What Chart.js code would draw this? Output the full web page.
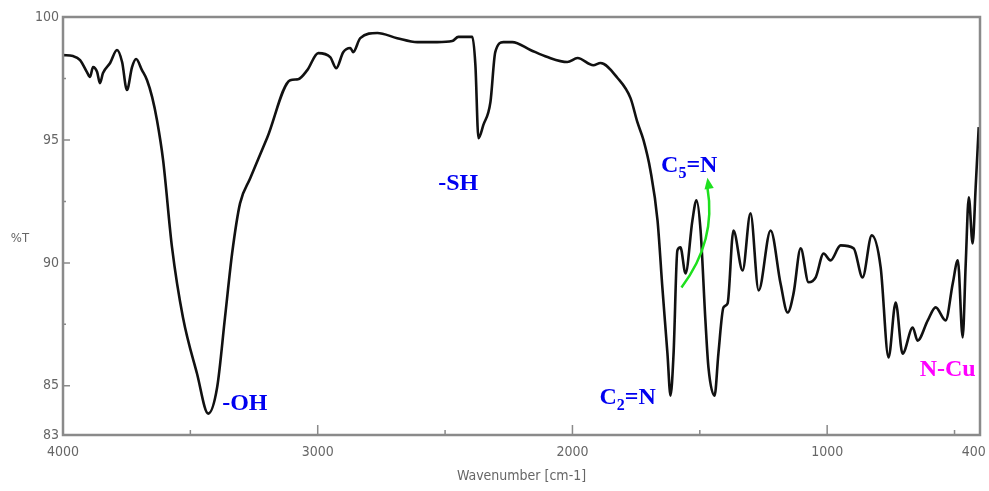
<!DOCTYPE html>
<html>
<head>
<meta charset="utf-8">
<script src="https://cdn.jsdelivr.net/npm/chart.js@4.4.1/dist/chart.umd.min.js"></script>
<style>
  html, body { margin: 0; padding: 0; background: #fff; }
  #wrap { width: 989px; height: 491px; }
</style>
</head>
<body>
<div id="wrap"><canvas id="chart"></canvas></div>
<script>
// IR spectrum
const wavenumber = [
  4000, 3961, 3933, 3906, 3894, 3882, 3866, 3855, 3843, 3815, 3788, 3768, 3749, 3729, 3713, 3690,
  3670, 3650, 3631, 3607, 3572, 3529, 3474, 3430, 3395, 3364, 3336, 3305, 3265, 3198, 3108, 3077,
  3041, 2998, 2951, 2927, 2900, 2872, 2861, 2833, 2766, 2688, 2609, 2531, 2472, 2448, 2393, 2381,
  2369, 2350, 2322, 2303, 2271, 2236, 2165, 2098, 2020, 1980, 1918, 1890, 1823, 1772, 1745, 1721,
  1694, 1666, 1647, 1627, 1615, 1603, 1588, 1576, 1556, 1529, 1513, 1497, 1478, 1466, 1442, 1427,
  1407, 1391, 1368, 1332, 1301, 1269, 1222, 1183, 1155, 1132, 1104, 1073, 1045, 1014, 987, 947,
  896, 861, 825, 790, 759, 731, 704, 664, 645, 605, 574, 535, 507, 487, 468, 456,
  444, 429, 417, 405
];
const transmittance = [
  98.45, 98.41, 98.25, 97.76, 97.56, 97.96, 97.76, 97.31, 97.72, 98.13, 98.66, 98.17, 97.03, 97.96, 98.29, 97.84,
  97.43, 96.74, 95.80, 94.18, 90.63, 87.78, 85.50, 83.87, 84.93, 87.78, 90.39, 92.42, 93.44, 95.10, 97.43, 97.47,
  97.84, 98.53, 98.37, 97.92, 98.57, 98.74, 98.57, 99.14, 99.35, 99.14, 98.98, 98.98, 99.02, 99.19, 99.19, 98.04,
  95.07, 95.60, 96.54, 98.57, 98.98, 98.98, 98.66, 98.37, 98.17, 98.33, 98.04, 98.13, 97.52, 96.70, 95.72, 94.99,
  93.77, 91.73, 89.00, 86.31, 84.60, 86.31, 90.51, 90.63, 89.57, 91.73, 92.55, 91.32, 87.66, 85.74, 84.60, 86.31,
  88.19, 88.35, 91.32, 89.69, 92.02, 88.88, 91.32, 89.16, 87.98, 88.76, 90.59, 89.21, 89.41, 90.38, 90.10, 90.71,
  90.59, 89.41, 91.12, 89.82, 86.15, 88.39, 86.31, 87.37, 86.84, 87.66, 88.19, 87.66, 89.16, 90.10, 86.97, 89.98,
  92.67, 90.79, 93.08, 95.52
];

const xTicks = [4000, 3500, 3000, 2500, 2000, 1500, 1000, 500, 400];
const xLabels = [4000, 3000, 2000, 1000, 400];
const yTicks = [83, 85, 87.5, 90, 92.5, 95, 97.5, 100];
const yLabels = [83, 85, 90, 95, 100];

// peak labels: [text, subscript, rest, wavenumber, %T, colour]
const peakLabels = [
  ['-OH', '', '', 3375, 84.0, '#0000f0'],
  ['-SH', '', '', 2527, 92.95, '#0000f0'],
  ['C', '5', '=N', 1652, 93.7, '#0000f0'],
  ['C', '2', '=N', 1894, 84.25, '#0000f0'],
  ['N-Cu', '', '', 637, 85.4, '#ff00ff']
];

const points = wavenumber.map((w, i) => ({ x: w, y: transmittance[i] }));

const axisGray = '#8a8a8a';
const tickFamily = "'DejaVu Sans Condensed', 'Liberation Sans Narrow', 'Liberation Sans', Arial, sans-serif";
const tickFont = { family: tickFamily, size: 14 };

const decorations = {
  id: 'decorations',
  afterDraw(chart) {
    const ctx = chart.ctx;
    const a = chart.chartArea;
    const xs = chart.scales.x, ys = chart.scales.y;
    ctx.save();
    // frame
    ctx.strokeStyle = axisGray;
    ctx.lineWidth = 2.5;
    ctx.strokeRect(a.left, a.top, a.right - a.left, a.bottom - a.top);
    // inward ticks
    ctx.lineWidth = 1.5;
    ctx.beginPath();
    xTicks.forEach(v => {
      if (v === 4000 || v === 400) return;
      const px = xs.getPixelForValue(v);
      const len = v % 1000 === 0 ? 10 : 5;
      ctx.moveTo(px, a.bottom);
      ctx.lineTo(px, a.bottom - len);
    });
    yTicks.forEach(v => {
      if (v === 83 || v === 100) return;
      const py = ys.getPixelForValue(v);
      const len = v % 5 === 0 ? 7 : 3;
      ctx.moveTo(a.left, py);
      ctx.lineTo(a.left + len, py);
    });
    ctx.stroke();

    // %T axis label
    ctx.fillStyle = '#666';
    ctx.font = '13px ' + tickFamily;
    ctx.textAlign = 'center';
    ctx.textBaseline = 'middle';
    ctx.fillText('%T', 20, ys.getPixelForValue(91.0));

    // peak labels
    ctx.textAlign = 'left';
    ctx.textBaseline = 'alphabetic';
    peakLabels.forEach(([t, sub, rest, w, tv, col]) => {
      let px = xs.getPixelForValue(w);
      const py = ys.getPixelForValue(tv);
      ctx.fillStyle = col;
      ctx.font = "bold 24px 'Liberation Serif', 'Times New Roman', serif";
      ctx.fillText(t, px, py);
      px += ctx.measureText(t).width;
      if (sub) {
        ctx.font = "bold 16px 'Liberation Serif', 'Times New Roman', serif";
        ctx.fillText(sub, px, py + 6);
        px += ctx.measureText(sub).width;
        ctx.font = "bold 24px 'Liberation Serif', 'Times New Roman', serif";
        ctx.fillText(rest, px, py);
      }
    });

    // green arrow from C=N band up to the C5=N label
    const x0 = xs.getPixelForValue(1572), y0 = ys.getPixelForValue(89.0);
    const cx = xs.getPixelForValue(1434), cy = ys.getPixelForValue(90.9);
    const x1 = xs.getPixelForValue(1470), y1 = ys.getPixelForValue(93.3);
    ctx.strokeStyle = '#1ee01e';
    ctx.fillStyle = '#1ee01e';
    ctx.lineWidth = 2.5;
    ctx.beginPath();
    ctx.moveTo(x0, y0);
    ctx.quadraticCurveTo(cx, cy, x1, y1 + 6);
    ctx.stroke();
    const ang = Math.atan2(y1 - cy, x1 - cx);
    ctx.beginPath();
    ctx.moveTo(x1, y1 - 4);
    ctx.lineTo(x1 + 12 * Math.cos(ang + Math.PI - 0.4), y1 - 4 + 12 * Math.sin(ang + Math.PI - 0.4));
    ctx.lineTo(x1 + 12 * Math.cos(ang + Math.PI + 0.4), y1 - 4 + 12 * Math.sin(ang + Math.PI + 0.4));
    ctx.closePath();
    ctx.fill();
    ctx.restore();
  }
};

const config = {
  type: 'scatter',
  data: {
    datasets: [{
      label: '%T',
      data: points,
      showLine: true,
      borderColor: '#111',
      borderWidth: 2.6,
      pointRadius: 0,
      cubicInterpolationMode: 'monotone'
    }]
  },
  options: {
    responsive: false,
    animation: false,
    layout: { padding: { top: 17, right: 9, left: 0, bottom: 0 } },
    plugins: { legend: { display: false }, tooltip: { enabled: false } },
    scales: {
      x: {
        type: 'linear',
        reverse: true,
        min: 400,
        max: 4000,
        afterBuildTicks: s => { s.ticks = xTicks.map(v => ({ value: v })); },
        afterFit: s => { s.height = 56; s.paddingLeft = 0; s.paddingRight = 0; },
        grid: { display: false, drawTicks: false },
        border: { display: true, color: axisGray, width: 2 },
        ticks: {
          autoSkip: false,
          maxRotation: 0,
          padding: 9,
          color: '#666',
          font: tickFont,
          // last label nudged left so it stays on the canvas
          callback: v => !xLabels.includes(v) ? '' : (v === 400 ? '400\u2002\u2002' : String(v))
        },
        title: {
          display: true,
          text: 'Wavenumber [cm-1]',
          color: '#666',
          font: { family: tickFamily, size: 14 },
          padding: { top: 0, bottom: 6 }
        }
      },
      y: {
        min: 83,
        max: 100,
        afterBuildTicks: s => { s.ticks = yTicks.map(v => ({ value: v })); },
        afterFit: s => { s.width = 63; s.paddingTop = 0; s.paddingBottom = 0; },
        grid: { display: false, drawTicks: false },
        border: { display: true, color: axisGray, width: 2 },
        ticks: {
          autoSkip: false,
          padding: 4,
          color: '#666',
          font: tickFont,
          callback: v => yLabels.includes(v) ? String(v) : ''
        }
      }
    }
  },
  plugins: [decorations]
};

const canvas = document.getElementById('chart');
canvas.width = 989;
canvas.height = 491;
const myChart = new Chart(canvas, config);
</script>
</body>
</html>
